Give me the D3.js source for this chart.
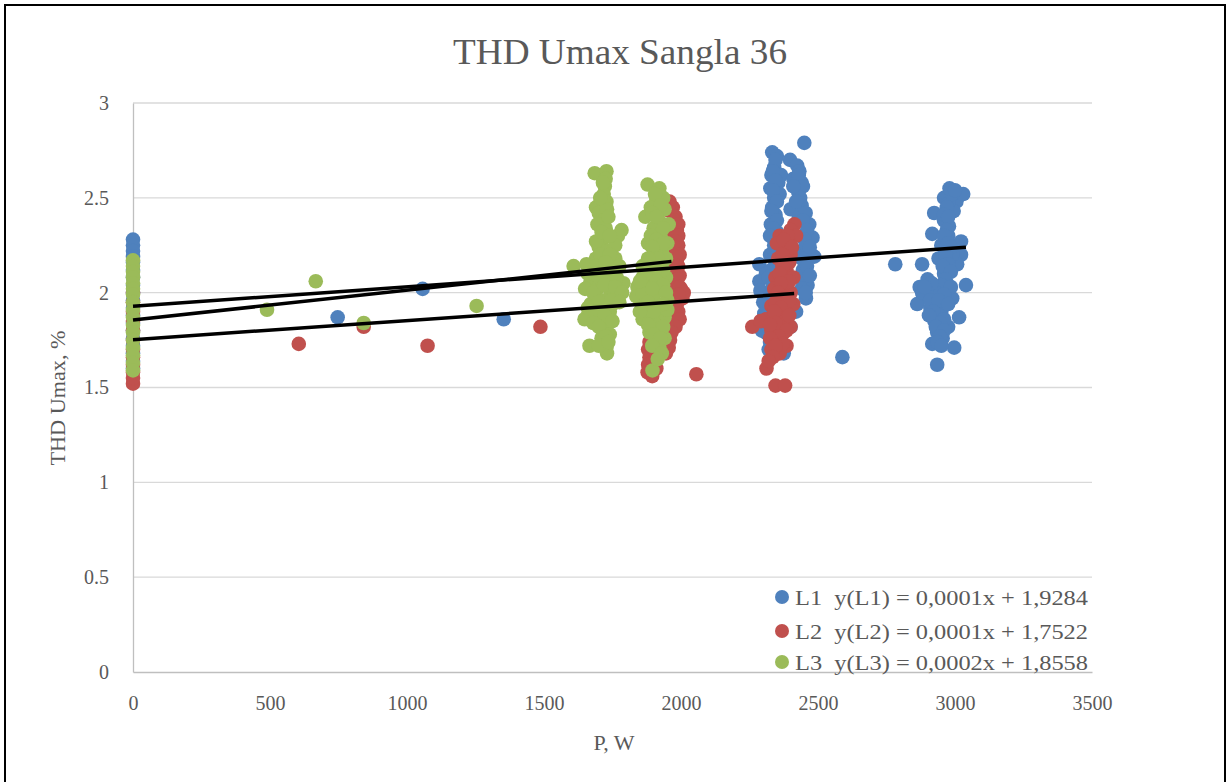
<!DOCTYPE html>
<html>
<head>
<meta charset="utf-8">
<script src="https://cdn.jsdelivr.net/npm/d3@7"></script>
<style>
  html, body { margin: 0; padding: 0; background: #fff; }
  svg text { font-family: "Liberation Serif", "DejaVu Serif", serif; fill: #595959; }
</style>
</head>
<body>
<svg id="chart" width="1231" height="782"></svg>
<script>
// ---- data ----
const seriesNames = ["L1", "L2", "L3"];
const legendEquations = ["y(L1) = 0,0001x + 1,9284", "y(L2) = 0,0001x + 1,7522", "y(L3) = 0,0002x + 1,8558"];
const xTicks = [0, 500, 1000, 1500, 2000, 2500, 3000, 3500];
const yTicks = [0, 0.5, 1, 1.5, 2, 2.5, 3];

const L1 = [
  [0,2.28],[0,2.25],[0,2.22],[0,2.19],[0,2.16],[0,2.12],[0,2.08],[0,2.04],[0,2.0],[0,1.96],[0,1.92],[0,1.88],[0,1.84],[0,1.8],[0,1.76],[0,1.72],[0,1.68],[0,1.64],[0,1.6],
  [747,1.87],[1057,2.02],[1353,1.86],[2589,1.66],
  [2333,2.74],[2350,2.72],[2398,2.70],[2424,2.67],[2450,2.79],[2340,2.66],[2330,2.62],[2355,2.58],[2326,2.55],[2340,2.50],
  [2432,2.64],[2440,2.58],[2428,2.53],[2333,2.45],[2345,2.41],[2328,2.36],[2350,2.32],[2340,2.28],[2468,2.36],[2480,2.29],
  [2440,2.22],[2458,2.25],[2486,2.19],[2286,2.15],[2310,2.10],[2286,2.06],[2445,2.12],[2462,2.04],[2456,1.97],[2290,2.01],
  [2300,1.95],[2304,1.89],[2330,1.84],[2310,1.79],[2340,1.74],[2320,1.70],[2375,1.68],[2350,1.76],[2400,1.82],[2420,1.90],
  [2450,2.06],[2360,2.00],[2380,2.16],[2360,2.52],[2365,2.62],[2410,2.60],[2400,2.44],[2430,2.40],[2300,1.86],[2295,1.80],
  [2345,2.70],[2335,2.64],[2345,2.59],[2335,2.54],[2350,2.48],[2330,2.43],[2350,2.38],[2335,2.34],[2325,2.30],[2340,2.25],
  [2325,2.20],[2340,2.18],[2330,2.12],[2320,2.08],[2335,2.03],[2320,1.98],[2325,1.93],[2315,1.88],[2320,1.82],[2330,1.78],
  [2325,1.74],[2345,1.70],[2430,2.62],[2445,2.56],[2435,2.50],[2440,2.46],[2455,2.42],[2445,2.38],[2460,2.33],[2450,2.28],
  [2470,2.24],[2440,2.18],[2460,2.14],[2470,2.09],[2440,2.02],[2455,2.00],[2410,2.56],[2420,2.48],
  [2986,2.52],[3015,2.51],[2960,2.50],[3005,2.48],[3030,2.52],[2924,2.42],[2995,2.43],[2978,2.35],[2917,2.31],[3022,2.27],
  [2975,2.30],[2880,2.15],[3022,2.20],[3008,2.15],[2960,2.10],[2950,2.25],[2940,2.18],[2970,2.05],[2871,2.03],[3040,2.04],
  [2928,2.02],[2885,1.98],[2990,1.97],[2862,1.94],[2910,1.92],[2950,1.90],[3015,1.87],[2925,1.85],[2975,1.82],[2935,1.79],
  [2917,1.73],[2997,1.71],[2935,1.62],[2782,2.15],[2960,1.95],[2900,2.07],[2945,2.00],[2940,1.88],[2960,2.38],[2990,2.20],[2955,1.76],
  [2975,2.47],[2990,2.52],[2970,2.45],[2960,2.41],[2975,2.40],[2970,2.33],[2960,2.30],[2975,2.26],[2985,2.24],[2965,2.20],
  [2975,2.15],[2955,2.14],[2985,2.11],[2965,2.07],[2950,2.04],[2985,2.03],[2930,2.00],[2960,1.99],[2900,1.99],[2880,2.00],
  [2910,1.96],[2940,1.96],[2975,1.94],[2920,1.90],[2960,1.86],[2945,1.84],[2905,1.88],[2930,1.82],[2960,1.80],[2945,1.77],
  [2935,1.74],[2950,1.72],[2915,2.05],[2890,2.03],[2980,2.55],[3000,2.54]
];
const L2 = [
  [0,1.52],[0,1.55],[0,1.58],[0,1.62],[0,1.66],[0,1.7],[0,1.75],[0,1.8],[0,1.85],[0,1.9],[0,1.95],[0,2.0],
  [605,1.73],[842,1.82],[1075,1.72],[1487,1.82],[2056,1.57],
  [1958,2.48],[1970,2.45],[1980,2.40],[1965,2.36],[1985,2.33],[1975,2.29],[1990,2.25],[1968,2.21],[1985,2.17],[1975,2.13],
  [1995,2.09],[1980,2.05],[2000,2.02],[2005,1.97],[1985,1.94],[1990,1.90],[1970,1.87],[1960,1.84],[1950,1.80],[1940,1.77],
  [1960,1.75],[1880,1.70],[1885,1.66],[1880,1.62],[1878,1.58],[1895,1.56],[1910,1.60],[1975,1.97],[1960,2.00],
  [1960,2.43],[1975,2.38],[1990,2.36],[1970,2.31],[1990,2.30],[1980,2.27],[1970,2.25],[1995,2.20],[1980,2.19],[1990,2.14],
  [1970,2.10],[1985,2.07],[1995,2.03],[2010,2.00],[1990,1.99],[1975,1.92],[1995,1.86],[1980,1.82],[1965,1.79],[1955,1.71],
  [1945,1.68],[1885,1.74],[1900,1.64],
  [2414,2.36],[2400,2.33],[2420,2.30],[2360,2.30],[2395,2.26],[2350,2.26],[2380,2.22],[2355,2.18],[2400,2.20],[2385,2.12],
  [2345,2.08],[2410,2.08],[2380,2.04],[2340,2.02],[2400,2.00],[2360,1.96],[2330,1.93],[2410,1.94],[2380,1.90],[2350,1.88],
  [2310,1.86],[2260,1.82],[2400,1.82],[2330,1.80],[2370,1.78],[2340,1.75],[2385,1.72],[2330,1.70],[2360,1.68],[2312,1.60],
  [2345,1.51],[2380,1.51],[2290,1.85],[2370,1.85],
  [2390,2.30],[2375,2.28],[2405,2.24],[2370,2.20],[2395,2.16],[2370,2.14],[2360,2.10],[2395,2.06],[2365,2.05],[2355,2.00],
  [2390,1.98],[2345,1.95],[2395,1.96],[2365,1.92],[2340,1.90],[2395,1.88],[2345,1.84],[2325,1.83],[2385,1.80],[2355,1.77],
  [2325,1.76],[2370,1.73],[2345,1.72],[2335,1.66],[2320,1.64]
];
const L3 = [
  [0,2.17],[0,2.14],[0,2.11],[0,2.08],[0,2.05],[0,2.02],[0,1.99],[0,1.95],[0,1.91],[0,1.87],[0,1.83],[0,1.79],[0,1.75],[0,1.71],[0,1.67],[0,1.63],[0,1.59],
  [489,1.91],[667,2.06],[842,1.84],[1254,1.93],[1608,2.14],
  [1685,2.63],[1728,2.64],[1725,2.60],[1722,2.56],[1718,2.52],[1690,2.45],[1728,2.48],[1700,2.42],[1730,2.44],[1720,2.38],
  [1783,2.33],[1770,2.30],[1695,2.36],[1725,2.34],[1715,2.28],[1700,2.24],[1730,2.22],[1690,2.18],[1760,2.18],[1775,2.14],
  [1655,2.15],[1680,2.10],[1712,2.12],[1740,2.08],[1790,2.05],[1670,2.06],[1700,2.03],[1745,2.00],[1690,1.98],[1720,1.96],
  [1770,1.99],[1670,1.94],[1710,1.92],[1740,1.90],[1660,1.88],[1648,1.86],[1705,1.86],[1730,1.84],[1715,1.80],[1740,1.78],
  [1710,1.76],[1666,1.72],[1728,1.71],[1730,1.68],[1690,2.27],[1760,2.25],
  [1715,2.58],[1705,2.50],[1735,2.40],[1710,2.32],[1740,2.30],[1705,2.20],[1740,2.20],[1690,2.14],[1725,2.16],[1755,2.12],
  [1660,2.10],[1700,2.08],[1765,2.08],[1650,2.02],[1680,2.00],[1720,2.04],[1760,2.03],[1785,2.00],[1700,1.95],[1750,1.94],
  [1660,1.92],[1690,1.90],[1720,1.88],[1680,1.84],[1750,1.85],[1700,1.82],[1725,1.77],[1700,1.72],[1735,1.74],[1745,1.96],[1775,1.95],
  [1878,2.57],[1921,2.55],[1910,2.49],[1935,2.50],[1890,2.45],[1940,2.44],[1870,2.40],[1920,2.38],[1900,2.34],[1925,2.30],
  [1880,2.26],[1930,2.22],[1900,2.20],[1945,2.18],[1860,2.14],[1920,2.14],[1890,2.10],[1945,2.08],[1841,2.03],[1880,2.04],
  [1925,2.02],[1837,1.98],[1900,1.98],[1950,1.96],[1860,1.93],[1920,1.92],[1878,1.88],[1940,1.87],[1900,1.84],[1860,1.86],
  [1920,1.81],[1885,1.79],[1940,1.76],[1910,1.74],[1921,1.71],[1896,1.59],[1950,1.91],[1860,2.08],[1950,2.26],[1955,2.36],
  [1905,2.52],[1925,2.46],[1895,2.42],[1910,2.40],[1935,2.34],[1890,2.30],[1910,2.28],[1935,2.26],[1895,2.24],[1915,2.18],
  [1880,2.18],[1935,2.12],[1905,2.12],[1870,2.10],[1910,2.06],[1935,2.04],[1860,2.00],[1895,2.02],[1945,2.00],[1880,1.95],
  [1935,1.94],[1900,1.90],[1850,1.90],[1935,1.82],[1880,1.83],[1900,1.78],[1925,1.76],[1895,1.72],[1930,1.68],[1915,1.65],[1850,2.06]
];
// trend lines: [xStart, yStart, xEnd, yEnd]
const trendL1 = [0, 1.9284, 3040, 2.24];
const trendL2 = [0, 1.7522, 2413, 1.995];
const trendL3 = [0, 1.8558, 1965, 2.165];

const colors = ["#4f81bd", "#c0504d", "#9bbb59"];

// ---- chart ----
const svg = d3.select("#chart");
const mLeft = 133, mRight = 1092, mTop = 103, mBottom = 672;

svg.append("rect").attr("x", 5).attr("y", 5).attr("width", 1220).attr("height", 800)
  .attr("fill", "#fff").attr("stroke", "#000").attr("stroke-width", 2);

const x = d3.scaleLinear().domain([0, 3500]).range([mLeft, mRight]);
const y = d3.scaleLinear().domain([0, 3]).range([mBottom, mTop]);

// gridlines
svg.append("g").selectAll("line").data(yTicks.filter(d => d > 0)).join("line")
  .attr("x1", mLeft).attr("x2", mRight)
  .attr("y1", d => y(d)).attr("y2", d => y(d))
  .attr("stroke", "#d9d9d9").attr("stroke-width", 1.3);

// axes
const xAxis = d3.axisBottom(x).tickValues(xTicks).tickSize(0).tickPadding(24).tickFormat(d3.format("d"));
const gx = svg.append("g").attr("transform", `translate(0,${mBottom})`).call(xAxis);
gx.select(".domain").attr("stroke", "#bfbfbf").attr("stroke-width", 1.3);
gx.selectAll("text").style("font-size", "20px").attr("fill", "#595959");

const yAxis = d3.axisLeft(y).tickValues(yTicks).tickSize(0).tickPadding(24).tickFormat(d => String(d));
const gy = svg.append("g").attr("transform", `translate(${mLeft},0)`).call(yAxis);
gy.select(".domain").attr("stroke", "#bfbfbf").attr("stroke-width", 1.3);
gy.selectAll("text").style("font-size", "20px").attr("fill", "#595959");

// points
const all = [L1, L2, L3];
all.forEach((s, i) => {
  svg.append("g").selectAll("circle").data(s).join("circle")
    .attr("cx", d => x(d[0])).attr("cy", d => y(d[1])).attr("r", 7.3)
    .attr("fill", colors[i]);
});

// trend lines
[trendL1, trendL2, trendL3].forEach(t => {
  svg.append("line")
    .attr("x1", x(t[0])).attr("y1", y(t[1])).attr("x2", x(t[2])).attr("y2", y(t[3]))
    .attr("stroke", "#000").attr("stroke-width", 3.5);
});

// title
svg.append("text").attr("x", 620).attr("y", 64).attr("text-anchor", "middle")
  .style("font-size", "36px").attr("textLength", 334).attr("lengthAdjust", "spacingAndGlyphs")
  .text("THD Umax Sangla 36");

// axis titles
svg.append("text").attr("transform", "translate(65,398) rotate(-90)").attr("text-anchor", "middle")
  .style("font-size", "22px").attr("textLength", 135).attr("lengthAdjust", "spacingAndGlyphs")
  .text("THD Umax, %");
svg.append("text").attr("x", 614).attr("y", 750).attr("text-anchor", "middle")
  .style("font-size", "22px").text("P, W");

// legend
const legY = [597, 631, 662];
const leg = svg.append("g");
seriesNames.forEach((n, i) => {
  leg.append("circle").attr("cx", 782).attr("cy", legY[i]).attr("r", 7).attr("fill", colors[i]);
  leg.append("text").attr("x", 795).attr("y", legY[i] + 8).style("font-size", "22px")
    .attr("xml:space", "preserve").attr("textLength", 293).attr("lengthAdjust", "spacingAndGlyphs")
    .text(n + "  " + legendEquations[i]);
});
</script>
</body>
</html>
